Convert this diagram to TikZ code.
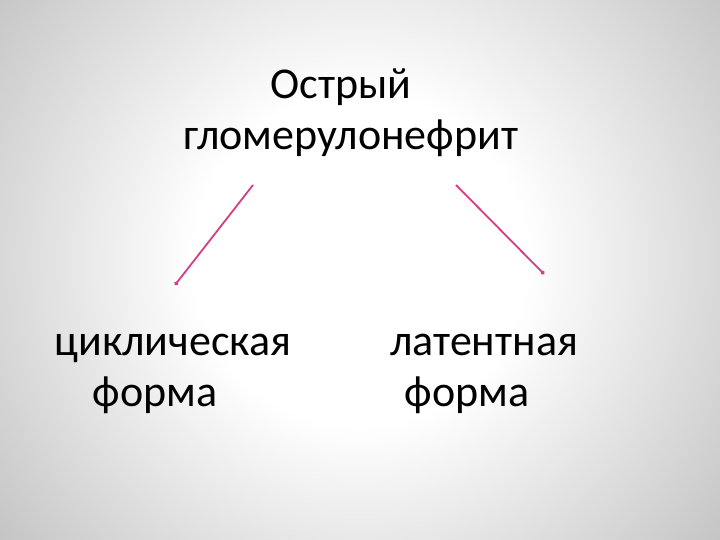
\documentclass[tikz,border=0pt]{standalone}
\usepackage{fontspec}
\setmainfont{Carlito}
\usetikzlibrary{arrows.meta}
\definecolor{linkpink}{RGB}{212,62,132}
\pgfdeclareradialshading{slidebg}{\pgfpoint{0bp}{0bp}}{color(0bp)=(white); color(9bp)=(white); color(29bp)=(white!71!black); color(39bp)=(white!60!black); color(50bp)=(white!54!black)}

\begin{document}
\begin{tikzpicture}[x=1pt,y=-1pt,
    term/.style={align=center,font=\fontsize{44}{51}\selectfont,inner sep=0pt},
    link/.style={linkpink,line width=1.8pt,-{Circle[length=4pt]}}]
    \useasboundingbox (0,0) rectangle (720,540);
    \begin{scope}
        \clip (0,0) rectangle (720,540);
        \shade[shading=slidebg] (360,260) circle (460);
    \end{scope}

    \node[term] (acute) at (351,113) {\mbox{Острый\hspace{20pt}}\\гломерулонефрит};
    \node[term] (cyclic) at (173,374) {циклическая\\\mbox{форма\hspace{36pt}}};
    \node[term] (latent) at (484,374) {латентная\\\mbox{форма\hspace{34pt}}};

    \coordinate (leftstart) at (253,185);
    \coordinate (leftend) at (175,285);
    \coordinate (rightstart) at (456,185);
    \coordinate (rightend) at (544,274);
    \draw[link] (leftstart) -- (leftend);
    \draw[link] (rightstart) -- (rightend);
\end{tikzpicture}
\end{document}
